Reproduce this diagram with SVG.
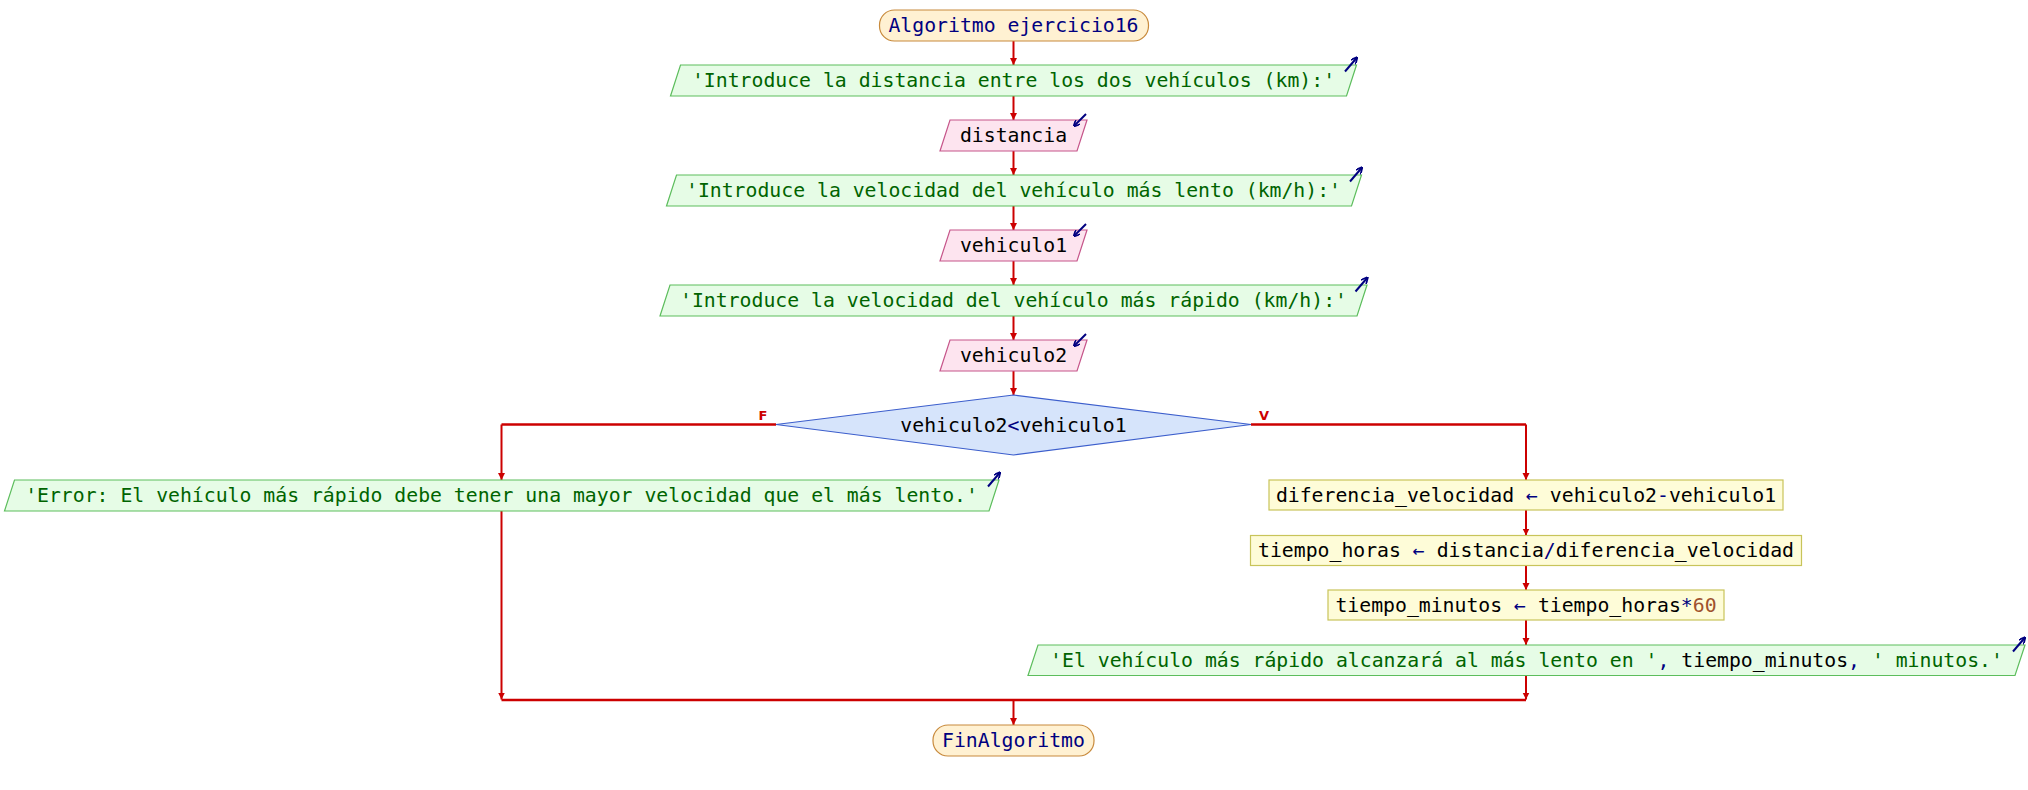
<svg xmlns="http://www.w3.org/2000/svg" width="2028" height="790" viewBox="0 0 2028 790">
<style>
text{font-family:"DejaVu Sans Mono","Liberation Mono",monospace;font-size:19.8px;text-anchor:middle}
.term{fill:#fff1d2;stroke:#c88a3c;stroke-width:1.2}
.out{fill:#e6fce6;stroke:#5cbd5c;stroke-width:1.2}
.inp{fill:#fde4ef;stroke:#c6558a;stroke-width:1.2}
.dec{fill:#d6e4fb;stroke:#3c5ecc;stroke-width:1.2}
.asg{fill:#fefcd8;stroke:#c8c45a;stroke-width:1.2}
.tn{fill:#000080}
.tg{fill:#006400}
.tb{fill:#000}
.op{fill:#000080}
.num{fill:#a0522d}
.c{fill:none;stroke:#cc0000;stroke-width:2}
.h{fill:none;stroke:#cc0000;stroke-width:2.5}
.ico{fill:none;stroke:#000080;stroke-width:2}
.lbl{font-family:"DejaVu Sans","Liberation Sans",sans-serif;font-size:13px;font-weight:bold;fill:#cc0000}
</style>
<defs>
<marker id="ah" viewBox="0 0 10 10" refX="10" refY="5" markerWidth="7" markerHeight="10" markerUnits="userSpaceOnUse" orient="auto"><path d="M0,0 L10,5 L0,10 z" fill="#cc0000"/></marker>
<marker id="ih" viewBox="0 0 10 10" refX="9" refY="5" markerWidth="7" markerHeight="7" markerUnits="userSpaceOnUse" orient="auto"><path d="M0,0 L10,5 L0,10" fill="none" stroke="#000080" stroke-width="2.5"/></marker>
</defs>

<g id="connectors">
<line class="c" x1="1013.5" y1="41" x2="1013.5" y2="65" marker-end="url(#ah)"/>
<line class="c" x1="1013.5" y1="96" x2="1013.5" y2="120" marker-end="url(#ah)"/>
<line class="c" x1="1013.5" y1="151" x2="1013.5" y2="175" marker-end="url(#ah)"/>
<line class="c" x1="1013.5" y1="206" x2="1013.5" y2="230" marker-end="url(#ah)"/>
<line class="c" x1="1013.5" y1="261" x2="1013.5" y2="285" marker-end="url(#ah)"/>
<line class="c" x1="1013.5" y1="316" x2="1013.5" y2="340" marker-end="url(#ah)"/>
<line class="c" x1="1013.5" y1="371" x2="1013.5" y2="395" marker-end="url(#ah)"/>
<polyline class="h" points="776,424.5 501.5,424.5"/>
<line class="c" x1="501.5" y1="424.5" x2="501.5" y2="480" marker-end="url(#ah)"/>
<polyline class="h" points="1251,424.5 1526,424.5"/>
<line class="c" x1="1526" y1="424.5" x2="1526" y2="480" marker-end="url(#ah)"/>
<line class="c" x1="1526" y1="510" x2="1526" y2="535.5" marker-end="url(#ah)"/>
<line class="c" x1="1526" y1="565.5" x2="1526" y2="590" marker-end="url(#ah)"/>
<line class="c" x1="1526" y1="620" x2="1526" y2="645" marker-end="url(#ah)"/>
<line class="c" x1="501.5" y1="511" x2="501.5" y2="699.5" marker-end="url(#ah)"/>
<line class="c" x1="1526" y1="675.5" x2="1526" y2="699.5" marker-end="url(#ah)"/>
<line class="h" x1="501.5" y1="700" x2="1526" y2="700"/>
<line class="c" x1="1013.5" y1="700" x2="1013.5" y2="725" marker-end="url(#ah)"/>
<text class="lbl" x="763" y="420">F</text>
<text class="lbl" x="1264" y="420">V</text>
</g>

<g id="start">
<rect class="term" x="879.5" y="10" width="269" height="31" rx="15" ry="15"/>
<text class="tn" x="1013.5" y="32">Algoritmo ejercicio16</text>
</g>

<g id="out1">
<polygon class="out" points="680.5,65 1356.5,65 1346.5,96 670.5,96"/>
<text class="tg" x="1013.5" y="87">'Introduce la distancia entre los dos vehículos (km):'</text>
<line class="ico" x1="1345" y1="71.5" x2="1357" y2="57.5" marker-end="url(#ih)"/>
</g>

<g id="in1">
<polygon class="inp" points="950,120 1087,120 1077,151 940,151"/>
<text class="tb" x="1013.5" y="142">distancia</text>
<line class="ico" x1="1086" y1="114" x2="1074" y2="126" marker-end="url(#ih)"/>
</g>

<g id="out2">
<polygon class="out" points="676.5,175 1361.5,175 1351.5,206 666.5,206"/>
<text class="tg" x="1013.5" y="197">'Introduce la velocidad del vehículo más lento (km/h):'</text>
<line class="ico" x1="1350" y1="181.5" x2="1362" y2="167.5" marker-end="url(#ih)"/>
</g>

<g id="in2">
<polygon class="inp" points="950,230 1087,230 1077,261 940,261"/>
<text class="tb" x="1013.5" y="252">vehiculo1</text>
<line class="ico" x1="1086" y1="224" x2="1074" y2="236" marker-end="url(#ih)"/>
</g>

<g id="out3">
<polygon class="out" points="670,285 1367,285 1357,316 660,316"/>
<text class="tg" x="1013.5" y="307">'Introduce la velocidad del vehículo más rápido (km/h):'</text>
<line class="ico" x1="1355.5" y1="291.5" x2="1367.5" y2="277.5" marker-end="url(#ih)"/>
</g>

<g id="in3">
<polygon class="inp" points="950,340 1087,340 1077,371 940,371"/>
<text class="tb" x="1013.5" y="362">vehiculo2</text>
<line class="ico" x1="1086" y1="334" x2="1074" y2="346" marker-end="url(#ih)"/>
</g>

<g id="decision">
<polygon class="dec" points="1013.5,395 1251,424.5 1013.5,455 776,424.5"/>
<text class="tb" x="1013.5" y="431.5">vehiculo2<tspan class="op">&lt;</tspan>vehiculo1</text>
</g>

<g id="outError">
<polygon class="out" points="14.5,480 999,480 989,511 4.5,511"/>
<text class="tg" x="501.5" y="502">'Error: El vehículo más rápido debe tener una mayor velocidad que el más lento.'</text>
<line class="ico" x1="988" y1="486.5" x2="1000" y2="472.5" marker-end="url(#ih)"/>
</g>

<g id="assign1">
<rect class="asg" x="1269" y="480" width="514" height="30"/>
<text class="tb" x="1526" y="501.5">diferencia_velocidad <tspan class="op">←</tspan> vehiculo2<tspan class="op">-</tspan>vehiculo1</text>
</g>

<g id="assign2">
<rect class="asg" x="1250.5" y="535.5" width="551" height="30"/>
<text class="tb" x="1526" y="557">tiempo_horas <tspan class="op">←</tspan> distancia<tspan class="op">/</tspan>diferencia_velocidad</text>
</g>

<g id="assign3">
<rect class="asg" x="1328" y="590" width="396" height="30"/>
<text class="tb" x="1526" y="611.5">tiempo_minutos <tspan class="op">←</tspan> tiempo_horas<tspan class="op">*</tspan><tspan class="num">60</tspan></text>
</g>

<g id="outFinal">
<polygon class="out" points="1038,645 2025,645 2015,675.5 1028,675.5"/>
<text class="tb" x="1526.5" y="667"><tspan class="tg">'El vehículo más rápido alcanzará al más lento en '</tspan><tspan class="op">,</tspan> tiempo_minutos<tspan class="op">,</tspan> <tspan class="tg">' minutos.'</tspan></text>
<line class="ico" x1="2013" y1="651.5" x2="2025" y2="637.5" marker-end="url(#ih)"/>
</g>

<g id="end">
<rect class="term" x="933" y="725" width="161" height="31" rx="15" ry="15"/>
<text class="tn" x="1013.5" y="747">FinAlgoritmo</text>
</g>
</svg>
